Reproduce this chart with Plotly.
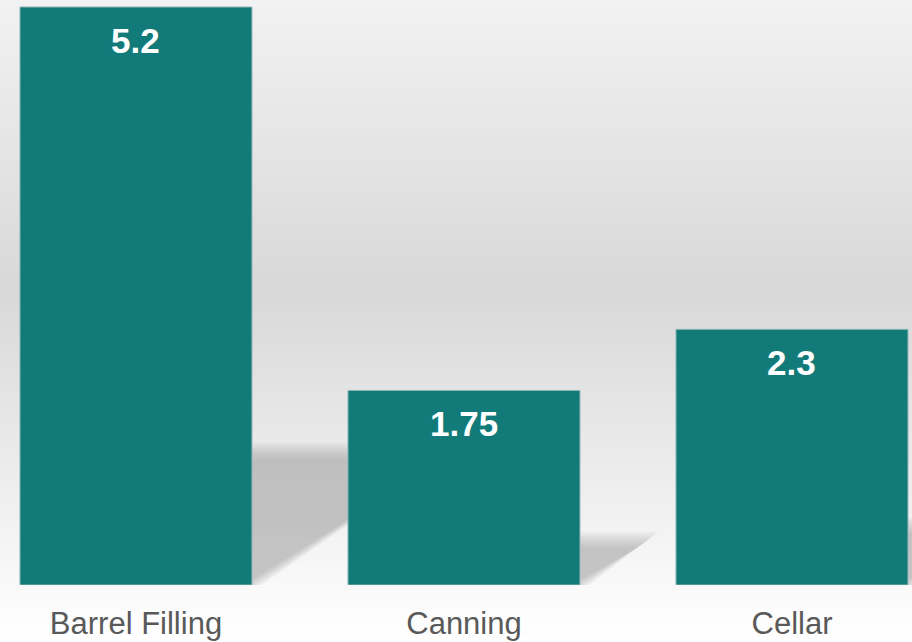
import plotly.graph_objects as go

categories = ["Barrel Filling", "Canning", "Cellar"]
values = [5.2, 1.75, 2.3]
value_labels = ["5.2", "1.75", "2.3"]

W, H = 912, 642
MB = 57
plot_h = H - MB
x_range = [-0.4146, 2.3659]
y_range = [0, 5.263]
bar_width = 0.7073
bar_color = "#127B7A"

xpx = W / (x_range[1] - x_range[0])
ypx = plot_h / (y_range[1] - y_range[0])

fig = go.Figure()
fig.add_trace(go.Bar(
    x=list(range(len(categories))), y=values, width=bar_width,
    marker=dict(color=bar_color, line=dict(color="#8fb5b4", width=1)),
    hoverinfo="skip", showlegend=False,
))

shapes = []
# vertical background gradient (paper coordinates)
def bg_level(py):
    mid = 0.45 * H
    if py <= mid:
        return 242 + (216 - 242) * py / mid
    return 216 + (255 - 216) * (py - mid) / (H - mid)

step = 3
for py in range(0, H, step):
    g = int(round(bg_level(py + step / 2)))
    y0 = (plot_h - py) / plot_h
    y1 = (plot_h - (py + step)) / plot_h
    shapes.append(dict(type="rect", xref="paper", yref="paper", x0=-0.01, x1=1.01,
                       y0=y1, y1=y0, fillcolor=f"rgb({g},{g},{g})",
                       line=dict(width=0), layer="below"))

# blurred perspective shadows behind bars
N = 8
half = bar_width / 2
for i, v in enumerate(values):
    h = 0.232 * v
    dx = (h * ypx / 0.66) / xpx
    for k in range(N):
        s = -8 + 16 * k / (N - 1)
        hk = h - s / ypx
        sx = 1.2 * s / xpx
        path = (f"M {i - half},0 L {i + half - sx},0 L {i + half + dx - sx},{hk} "
                f"L {i - half + dx},{hk} Z")
        shapes.append(dict(type="path", xref="x", yref="y", path=path,
                           fillcolor="rgb(160,160,160)", opacity=0.09,
                           line=dict(width=0), layer="below"))

annotations = []
for i, (v, t) in enumerate(zip(values, value_labels)):
    annotations.append(dict(x=i, y=v, xref="x", yref="y", text=t, showarrow=False,
                            yanchor="middle", yshift=-33,
                            font=dict(family="Liberation Sans, Arial", size=35,
                                      color="white", weight="bold")))

fig.update_layout(
    width=W, height=H,
    margin=dict(l=0, r=0, t=0, b=MB, pad=0),
    paper_bgcolor="#ffffff", plot_bgcolor="rgba(0,0,0,0)",
    shapes=shapes, annotations=annotations,
    xaxis=dict(range=x_range, tickmode="array", tickvals=list(range(len(categories))),
               ticktext=categories, showgrid=False, zeroline=False, showline=False,
               ticks="", ticklabelstandoff=17,
               tickfont=dict(family="Liberation Sans, Arial", size=31,
                             color="#595959")),
    yaxis=dict(range=y_range, visible=False, showgrid=False, zeroline=False),
    showlegend=False,
)

fig.write_html("out.html", config={"displayModeBar": False},
               post_script="document.body.style.margin='0';")
